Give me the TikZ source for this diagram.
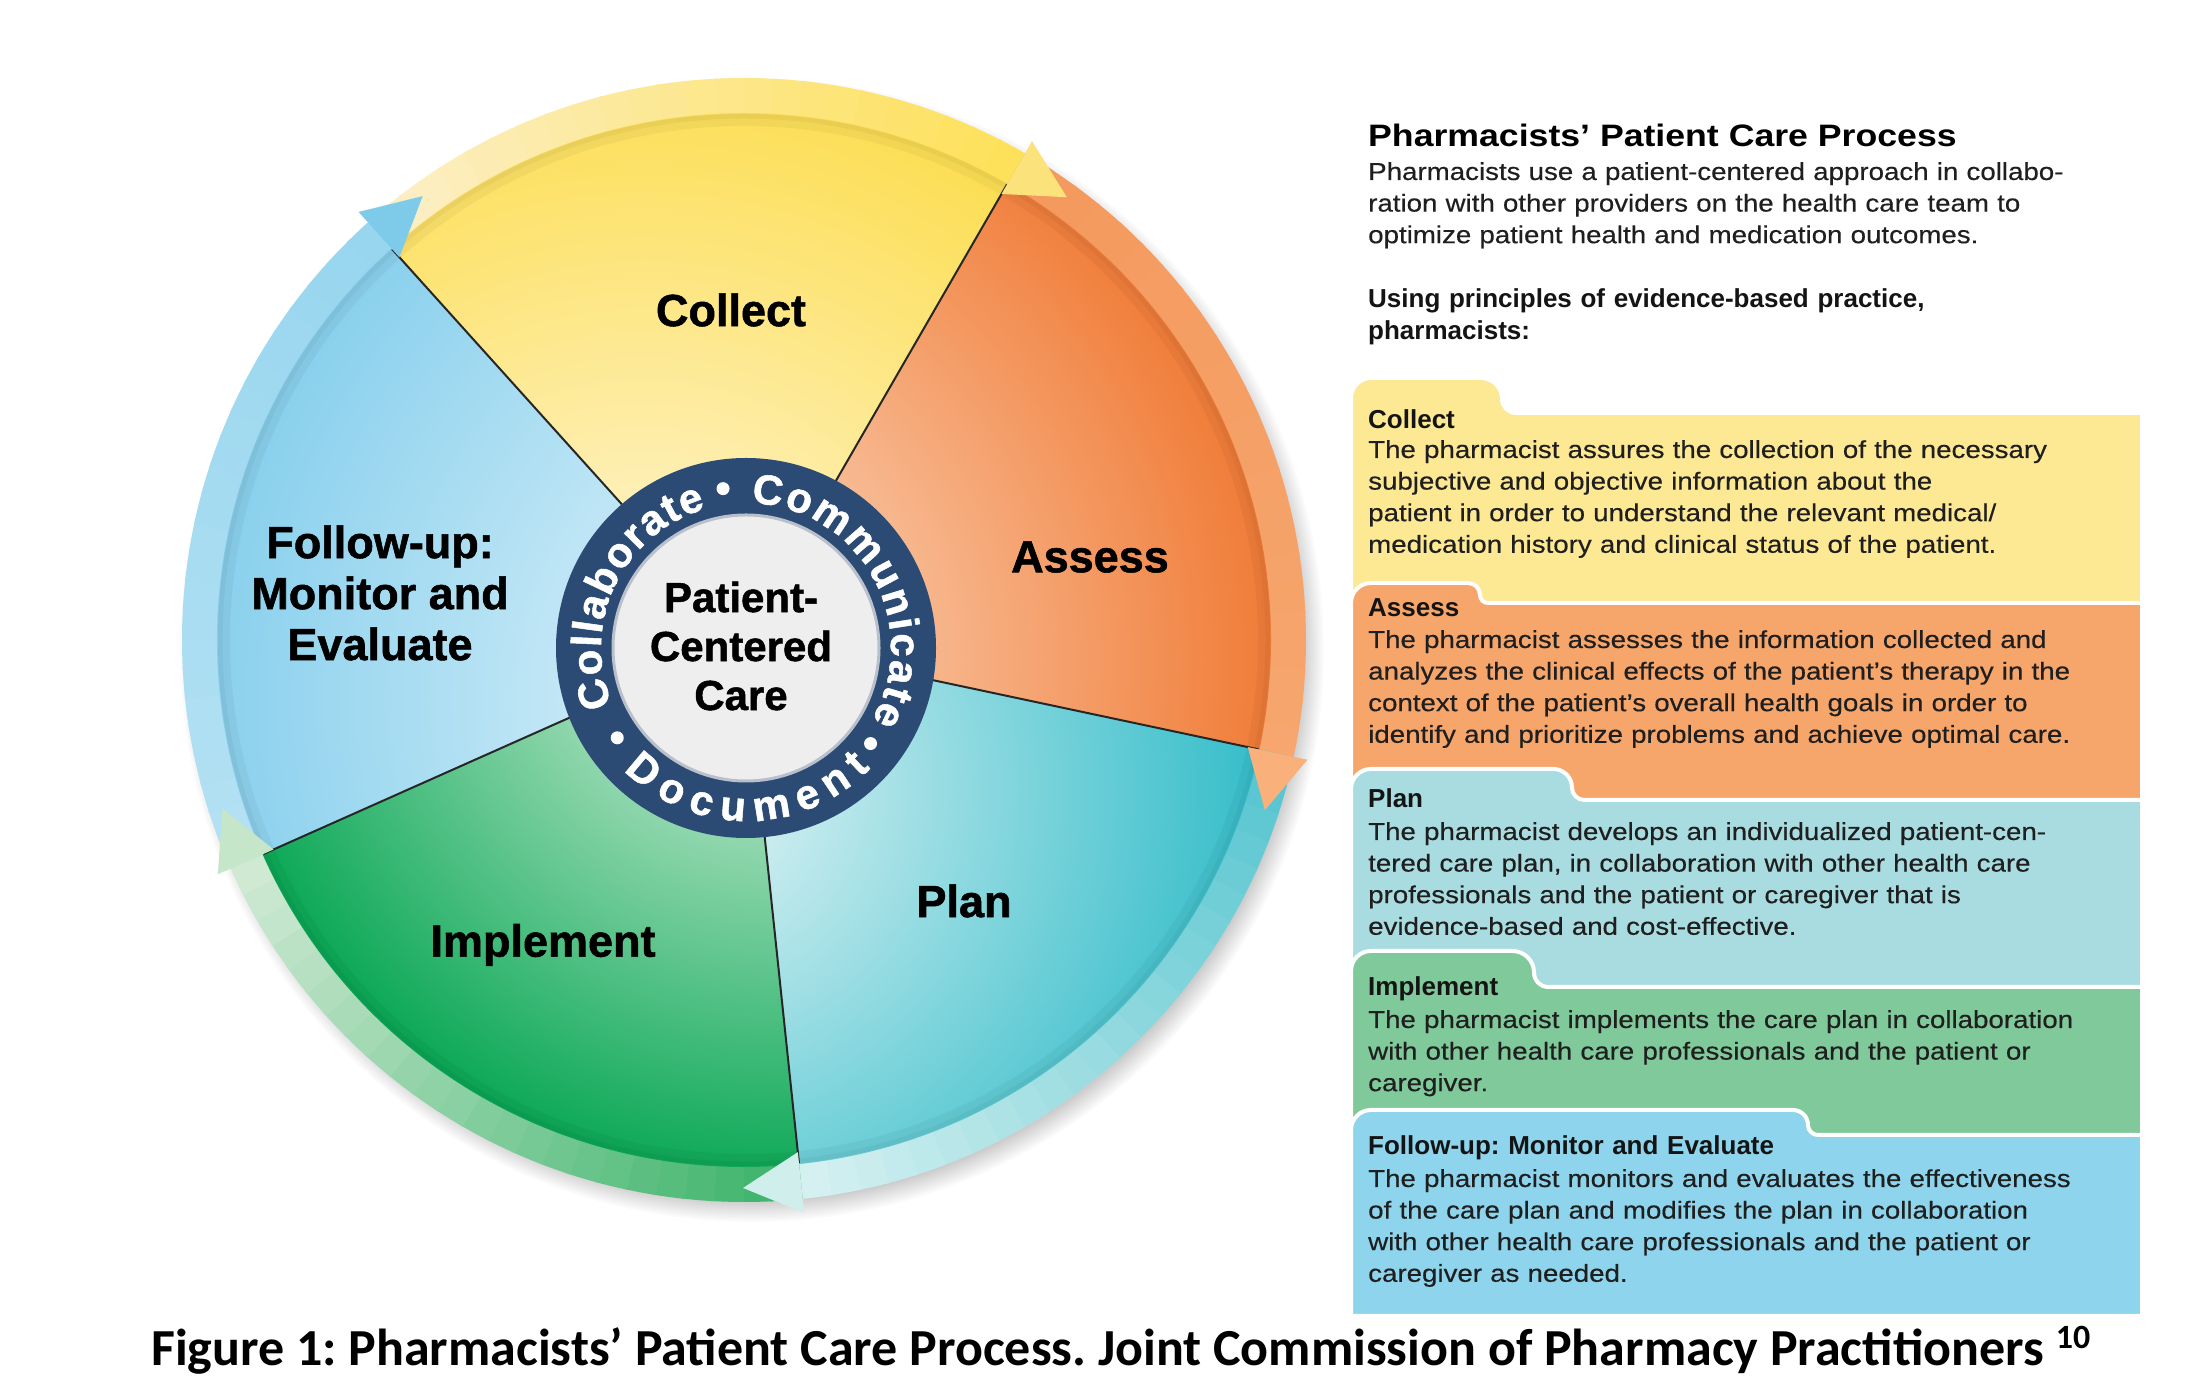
\documentclass[tikz,border=0pt]{standalone}
\usepackage{fontspec}
\setmainfont{Liberation Sans}
\newfontfamily\bodyfont[FakeStretch=1.13, FakeBold=0.35]{Liberation Sans}
\newfontfamily\titlefont[FakeStretch=1.15]{Liberation Sans}
\newfontfamily\heavyfont[BoldFeatures={FakeBold=1.2}]{Liberation Sans}
\newfontfamily\capfont{Carlito}
\usetikzlibrary{decorations.text}
\frenchspacing

% ring colours (start -> end of each arc)
\definecolor{rCa}{HTML}{FCEFC8}\definecolor{rCb}{HTML}{FDE15B}
\definecolor{rAa}{HTML}{F4995D}\definecolor{rAb}{HTML}{F6A66E}
\definecolor{rPa}{HTML}{54C4CF}\definecolor{rPb}{HTML}{D4F0F0}
\definecolor{rIa}{HTML}{3BB36A}\definecolor{rIb}{HTML}{CFE9D3}
\definecolor{rFa}{HTML}{B4E1F3}\definecolor{rFb}{HTML}{98D6EF}
% arrowheads
\definecolor{aC}{HTML}{FBE27A}\definecolor{aA}{HTML}{F9B07A}
\definecolor{aP}{HTML}{D0EEEC}\definecolor{aI}{HTML}{C6E6CA}
\definecolor{aF}{HTML}{7ECBE9}
% slices
\definecolor{sCi}{HTML}{FFF8E4}\definecolor{sCo}{HTML}{FCDD50}
\definecolor{sAi}{HTML}{FDE6D2}\definecolor{sAo}{HTML}{F07A35}
\definecolor{sPi}{HTML}{E6F5F6}\definecolor{sPo}{HTML}{2BBAC7}
\definecolor{sIi}{HTML}{F0F8EC}\definecolor{sIo}{HTML}{00A44F}
\definecolor{sFi}{HTML}{F0F9FD}\definecolor{sFo}{HTML}{84CEEC}
% panels
\definecolor{pC}{HTML}{FDE893}\definecolor{pA}{HTML}{F6A56B}
\definecolor{pP}{HTML}{A9DCE0}\definecolor{pI}{HTML}{80C99A}
\definecolor{pF}{HTML}{8DD4EC}
% medallion
\definecolor{medblue}{HTML}{2C4B74}
\definecolor{medlight}{HTML}{EEEEEE}
\definecolor{medge}{HTML}{B9C0CB}

\newcommand\medfont{\heavyfont\fontsize{42}{42}\selectfont\bfseries\color{white}}

\newcommand\ringarc[4]{%
  \foreach \kk [evaluate=\kk as \mypct using int(100-\kk*100/23), evaluate=\kk as \myang using #1-\kk*3] in {0,...,23}{%
    \draw[line width=36pt, color=#3!\mypct!#4] (\myang:544) arc[start angle=\myang, end angle=\myang-3.4, radius=544];
  }%
}
\newcommand\pieslice[7]{%
  \begin{scope}
    \clip (0,0) -- (#1:527) arc[start angle=#1, end angle=#2, radius=527] -- cycle;
    \shade[inner color=#3, outer color=#4] (#5,#6) circle (#7);
  \end{scope}}
\newcommand\arrowhd[2]{%
  \fill[#2] (#1:515) -- (#1:576) -- ({#1-6.1}:548) -- cycle;}
\newcommand\tabpanel[5]{%
  \pgfmathsetmacro\rtwo{0.6*(#1-#2)}%
  \pgfmathsetmacro\stwo{0.4*(#1-#2)}%
  \filldraw[fill=#5, draw=white, line width=4pt]
    (1351,#4) -- (1351,#1-20) arc[start angle=180, end angle=90, radius=20]
    -- ({#3-\rtwo},#1) arc[start angle=90, end angle=0, radius=\rtwo]
    -- (#3,{#2+\stwo}) arc[start angle=180, end angle=270, radius=\stwo]
    -- (2142,#2) -- (2142,#4) -- cycle;}

\begin{document}
\begin{tikzpicture}[x=1pt, y=1pt,
  lbl/.style={font=\heavyfont\bfseries\fontsize{45}{51}\selectfont, align=center, inner sep=0pt, text=black},
  ctr/.style={font=\heavyfont\bfseries\fontsize{42}{49}\selectfont, align=center, inner sep=0pt, text=black},
  body/.style={font=\bodyfont\fontsize{24.5}{31.6}\selectfont, text width=820pt, align=left, inner sep=0pt, anchor=base west, text=black!88},
  hdr/.style={font=\bfseries\fontsize{26}{31.6}\selectfont, text width=820pt, align=left, inner sep=0pt, anchor=base west, text=black!92},
  arctext/.style={decorate, decoration={text along path, text={|\medfont|#1}, text align=fit to path}}
]
\useasboundingbox (0,0) rectangle (2188,1400);
\fill[white] (0,0) rectangle (2188,1400);

% ================= wheel =================
\begin{scope}[shift={(744,760)}]
  % soft shadow
  \foreach \i in {0,...,9} { \fill[black, opacity=0.018] (8,-10) circle ({552+\i*2.2}); }
  % outer ring of arrows
  \ringarc{132}{60}{rCa}{rCb}
  \ringarc{60}{-12}{rAa}{rAb}
  \ringarc{-12}{-84}{rPa}{rPb}
  \ringarc{-84}{-156}{rIa}{rIb}
  \ringarc{-156}{-228}{rFa}{rFb}
  % slices
  \pieslice{60}{132}{sCi}{sCo}{-100}{-60}{640}
  \pieslice{-12}{60}{sAi}{sAo}{-100}{-20}{640}
  \pieslice{-84}{-12}{sPi}{sPo}{-60}{-150}{610}
  \pieslice{-156}{-84}{sIi}{sIo}{40}{40}{610}
  \pieslice{132}{204}{sFi}{sFo}{110}{-60}{680}
  % inner bevel
  \draw[black, opacity=0.04, line width=12pt] (0,0) circle (520);
  \draw[black, opacity=0.035, line width=5pt] (0,0) circle (524);
  % slice borders
  \foreach \t in {60,132,204,276,348} { \draw[line width=2pt, black!85] (\t:150) -- (\t:526); }
  % arrowheads
  \arrowhd{60}{aC}
  \arrowhd{348}{aA}
  \arrowhd{276}{aP}
  \arrowhd{204}{aI}
  \arrowhd{132}{aF}
\end{scope}

% ================= medallion =================
\begin{scope}[shift={(746,752)}]
  \fill[medblue] (0,0) circle (190);
  \fill[medlight] (0,0) circle (133);
  \draw[medge, line width=3pt] (0,0) circle (133);
  \path[arctext=Collaborate] (203:145) arc[start angle=203, end angle=106, radius=145];
  \path[arctext=Communicate] (88:145) arc[start angle=88, end angle=-30, radius=145];
  \path[arctext=Document] (225:173) arc[start angle=225, end angle=316, radius=173];
  \fill[white] (98.2:161) circle (6.5);
  \fill[white] (214.9:157) circle (6.5);
  \fill[white] (322.5:157) circle (6.5);
\end{scope}

% ================= wheel labels =================
\node[lbl] (lcollect) at (731,1090) {Collect};
\node[lbl] (lassess) at (1090,843) {Assess};
\node[lbl] (lplan) at (964,499) {Plan};
\node[lbl] (limpl) at (543,455) {Implement};
\node[lbl] (lfollow) at (380,807) {Follow-up:\\Monitor and\\Evaluate};
\node[ctr] (lcenter) at (741,754) {Patient-\\Centered\\Care};

% ================= right panel =================
\node[anchor=base west, inner sep=0pt, font=\titlefont\bfseries\fontsize{31}{36}\selectfont] (ttl) at (1368,1253) {Pharmacists’ Patient Care Process};
\node[body] (intro) at (1368,1220) {Pharmacists use a patient-centered approach in collabo-\\ration with other providers on the health care team to\\optimize patient health and medication outcomes.};
\node[hdr] (using) at (1368,1092) {Using principles of evidence-based practice,\\pharmacists:};

\tabpanel{1022}{987}{1502}{760}{pC}
\tabpanel{817}{797}{1480}{580}{pA}
\tabpanel{631}{600}{1572}{400}{pP}
\tabpanel{449}{413}{1534}{250}{pI}
\tabpanel{290}{265}{1808}{84}{pF}

\node[hdr] (hcollect) at (1368,971) {Collect};
\node[body] (bcollect) at (1368,942) {The pharmacist assures the collection of the necessary\\subjective and objective information about the\\patient in order to understand the relevant medical/\\medication history and clinical status of the patient.};
\node[hdr] (hassess) at (1368,783) {Assess};
\node[body] (bassess) at (1368,752) {The pharmacist assesses the information collected and\\analyzes the clinical effects of the patient’s therapy in the\\context of the patient’s overall health goals in order to\\identify and prioritize problems and achieve optimal care.};
\node[hdr] (hplan) at (1368,592) {Plan};
\node[body] (bplan) at (1368,560) {The pharmacist develops an individualized patient-cen-\\tered care plan, in collaboration with other health care\\professionals and the patient or caregiver that is\\evidence-based and cost-effective.};
\node[hdr] (himpl) at (1368,404) {Implement};
\node[body] (bimpl) at (1368,372) {The pharmacist implements the care plan in collaboration\\with other health care professionals and the patient or\\caregiver.};
\node[hdr] (hfollow) at (1368,245) {Follow-up: Monitor and Evaluate};
\node[body] (bfollow) at (1368,213) {The pharmacist monitors and evaluates the effectiveness\\of the care plan and modifies the plan in collaboration\\with other health care professionals and the patient or\\caregiver as needed.};

% ================= caption =================
\node[anchor=base west, inner sep=0pt, font=\capfont\bfseries\fontsize{52}{56}\selectfont] (cap) at (151,34) {Figure 1: Pharmacists’ Patient Care Process. Joint Commission of Pharmacy Practitioners \raisebox{17pt}{\fontsize{34}{34}\selectfont 10}};
\end{tikzpicture}
\end{document}
